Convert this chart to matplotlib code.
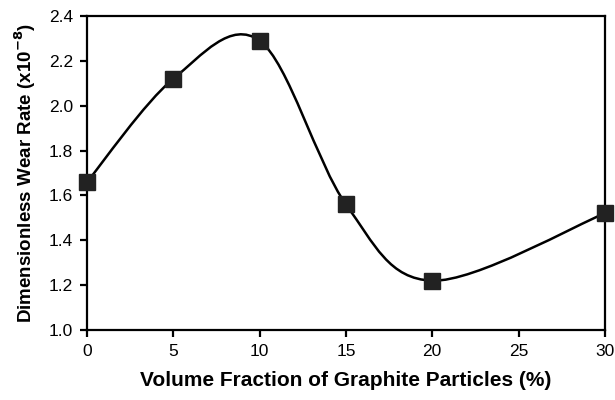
import matplotlib
matplotlib.use('Agg')
import matplotlib.pyplot as plt
from matplotlib.path import Path
from matplotlib.patches import PathPatch

plt.rcParams['font.family'] = ['Liberation Sans', 'DejaVu Sans']

# 石墨體積分率 (%) 與無因次磨耗率 (x10^-8)
volume_fraction = [0, 5, 10, 15, 20, 30]
wear_rate = [1.66, 2.12, 2.29, 1.56, 1.22, 1.52]

x_ticks = [0, 5, 10, 15, 20, 25, 30]
y_ticks = [1.0, 1.2, 1.4, 1.6, 1.8, 2.0, 2.2, 2.4]


def smooth_path(xs, ys):
    """以 Catmull-Rom 方式轉成三次 Bezier 路徑 (類似 Excel 平滑線)"""
    pts = list(zip(xs, ys))
    n = len(pts)
    verts = [pts[0]]
    codes = [Path.MOVETO]
    for i in range(n - 1):
        p0 = pts[i - 1] if i > 0 else pts[i]
        p1 = pts[i]
        p2 = pts[i + 1]
        p3 = pts[i + 2] if i + 2 < n else pts[i + 1]
        c1 = (p1[0] + (p2[0] - p0[0]) / 6, p1[1] + (p2[1] - p0[1]) / 6)
        c2 = (p2[0] - (p3[0] - p1[0]) / 6, p2[1] - (p3[1] - p1[1]) / 6)
        verts += [c1, c2, p2]
        codes += [Path.CURVE4] * 3
    return Path(verts, codes)


fig = plt.figure(figsize=(6.15, 4.0), dpi=100)
ax = fig.add_axes([0.1415, 0.175, 0.842, 0.785])

ax.add_patch(PathPatch(smooth_path(volume_fraction, wear_rate),
                       facecolor='none', edgecolor='black', linewidth=1.8, zorder=2))
ax.plot(volume_fraction, wear_rate, linestyle='none', marker='s', markersize=12,
        color='#222222', clip_on=False, zorder=3)

ax.set_xlim(0, 30)
ax.set_ylim(1.0, 2.4)
ax.set_xticks(x_ticks)
ax.set_yticks(y_ticks)
ax.set_yticklabels([f'{v:.1f}' for v in y_ticks])

for s in ax.spines.values():
    s.set_linewidth(1.6)
ax.tick_params(axis='both', direction='out', length=5, width=1.6, labelsize=12.5, pad=5)

ax.set_xlabel('Volume Fraction of Graphite Particles (%)', fontsize=15, fontweight='bold', labelpad=9)
ax.set_ylabel('Dimensionless Wear Rate (x10$^{\\mathbf{-8}}$)', fontsize=13.5, fontweight='bold', labelpad=8)

plt.savefig('out.png', dpi=100)
plt.close()
